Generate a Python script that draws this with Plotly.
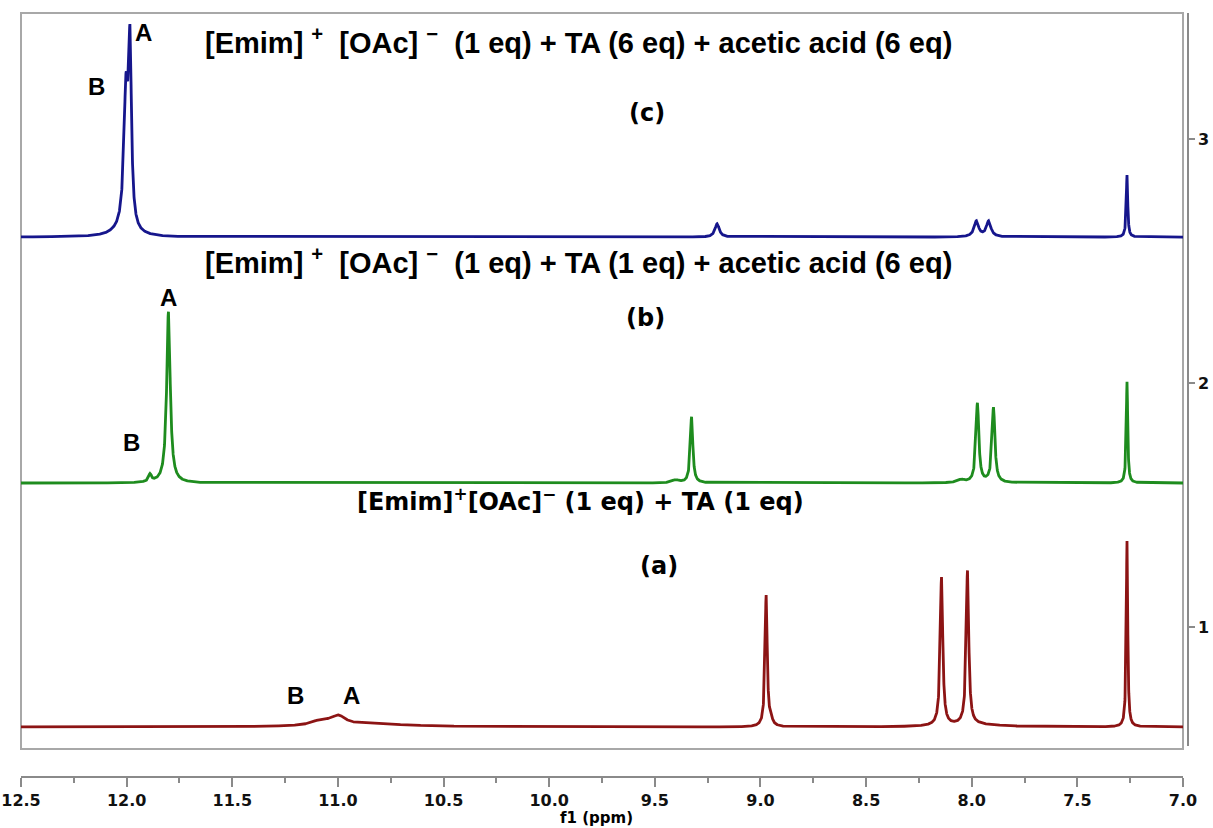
import numpy as np
import plotly.graph_objects as go

# ---------------- data ----------------
# each spectrum: baseline offset, peak centres (ppm), peak heights, peak half-widths (ppm)
c_baseline = 2.598
c_centers = [12.003, 11.984, 12.020, 9.205, 7.978, 7.920, 7.265]
c_heights = [0.549, 0.698, 0.020, 0.055, 0.064, 0.064, 0.254]
c_widths = [0.012, 0.008, 0.060, 0.012, 0.013, 0.013, 0.004]

b_baseline = 1.590
b_centers = [11.889, 11.802, 9.402, 9.326, 8.050, 7.973, 7.897, 7.265]
b_heights = [0.030, 0.702, 0.012, 0.271, 0.012, 0.325, 0.307, 0.415]
b_widths = [0.008, 0.010, 0.020, 0.007, 0.020, 0.008, 0.008, 0.004]

a_baseline = 0.590
a_centers = [11.080, 10.997, 10.850, 8.973, 8.950, 8.143, 8.020, 8.000, 7.265]
a_heights = [0.020, 0.035, 0.012, 0.537, 0.020, 0.607, 0.630, 0.010, 0.762]
a_widths = [0.050, 0.040, 0.250, 0.006, 0.010, 0.007, 0.007, 0.150, 0.004]

x_ticks = [12.5, 12.0, 11.5, 11.0, 10.5, 10.0, 9.5, 9.0, 8.5, 8.0, 7.5, 7.0]
y_ticks = [1, 2, 3]

title_c = "[Emim]\u00a0<sup>+</sup>\u00a0\u00a0[OAc]\u00a0<sup>\u2212</sup>\u00a0\u00a0(1 eq) + TA (6 eq) + acetic acid (6 eq)"
title_b = "[Emim]\u00a0<sup>+</sup>\u00a0\u00a0[OAc]\u00a0<sup>\u2212</sup>\u00a0\u00a0(1 eq) + TA (1 eq) + acetic acid (6 eq)"
title_a = "[Emim]<sup>+</sup>[OAc]<sup>\u2212</sup> (1 eq) + TA (1 eq)"

# ---------------- build line shapes ----------------
ppm = np.linspace(7.0, 12.5, 11001)


def spectrum(base, centers, heights, widths):
    y = np.full_like(ppm, base)
    for c, h, w in zip(centers, heights, widths):
        y += h / (1.0 + ((ppm - c) / w) ** 2)
    return y


W, H = 1213, 828
L, R, T, B = 21, 25, 13, 51
PW, PH = W - L - R, H - T - B


def px(xp):
    return (xp - L) / PW


def py(yp):
    return (H - B - yp) / PH


fig = go.Figure()
for base, cs, hs, ws, col in [
    (a_baseline, a_centers, a_heights, a_widths, "#8c1414"),
    (b_baseline, b_centers, b_heights, b_widths, "#1e8c1e"),
    (c_baseline, c_centers, c_heights, c_widths, "#16168c"),
]:
    fig.add_trace(go.Scatter(x=ppm, y=spectrum(base, cs, hs, ws), mode="lines",
                             line=dict(color=col, width=2.8), hoverinfo="skip",
                             showlegend=False))

axis_grey = "#8a8a8a"
tick_font = dict(family="DejaVu Sans", size=16, color="#111111", weight="bold")

fig.update_layout(
    width=W, height=H,
    margin=dict(l=L, r=R, t=T, b=B),
    paper_bgcolor="white", plot_bgcolor="white",
    xaxis=dict(domain=[0, px(1183)], range=[12.5, 7.0], anchor="free", position=0,
               showline=True, linecolor=axis_grey, linewidth=1.5,
               ticks="outside", ticklen=9, tickwidth=1.5, tickcolor=axis_grey,
               tickvals=x_ticks, ticktext=[f"{v:.1f}" for v in x_ticks],
               tickfont=tick_font, showgrid=False, zeroline=False, automargin=False,
               minor=dict(dtick=0.25, tick0=7.0, ticks="outside", ticklen=5,
                          tickwidth=1.5, tickcolor=axis_grey, showgrid=False)),
    yaxis=dict(domain=[py(746), 1], range=[0.5123, 3.5164], side="right",
               anchor="free", position=1, showline=True, linecolor=axis_grey,
               linewidth=1.5, ticks="outside", ticklen=6, tickwidth=1.5,
               tickcolor=axis_grey, tickvals=y_ticks, ticktext=[str(v) for v in y_ticks],
               tickfont=tick_font, showgrid=False, zeroline=False, automargin=False),
)

# frame of the spectrum panel
fig.add_shape(type="rect", xref="paper", yref="paper", x0=0, x1=px(1183),
              y0=py(749), y1=1, line=dict(color="#a8a8a8", width=2), layer="below")


def note(text, x, y, size, family, color="black"):
    fig.add_annotation(text=text, xref="paper", yref="paper", x=px(x), y=py(y),
                       xanchor="center", yanchor="middle", showarrow=False,
                       font=dict(family=family, size=size, color=color, weight="bold"))


narrow = "Liberation Sans, Arial, sans-serif"
wide = "DejaVu Sans, Verdana, sans-serif"
arial = "Liberation Sans, Arial, sans-serif"

note(title_c, 578, 41, 29, narrow)
note(title_b, 578, 261, 29, narrow)
note(title_a, 580, 500, 24, wide)
note("(c)", 647, 113, 24, wide)
note("(b)", 645, 318, 24, wide)
note("(a)", 659, 566, 24, wide)
note("A", 143, 32, 24, arial)
note("B", 96, 87, 24, arial)
note("A", 168, 297, 24, arial)
note("B", 131, 442, 24, arial)
note("B", 295, 695, 24, arial)
note("A", 351, 695, 24, arial)
note("f1 (ppm)", 596, 818, 15, wide)

fig.write_html("out.html")
